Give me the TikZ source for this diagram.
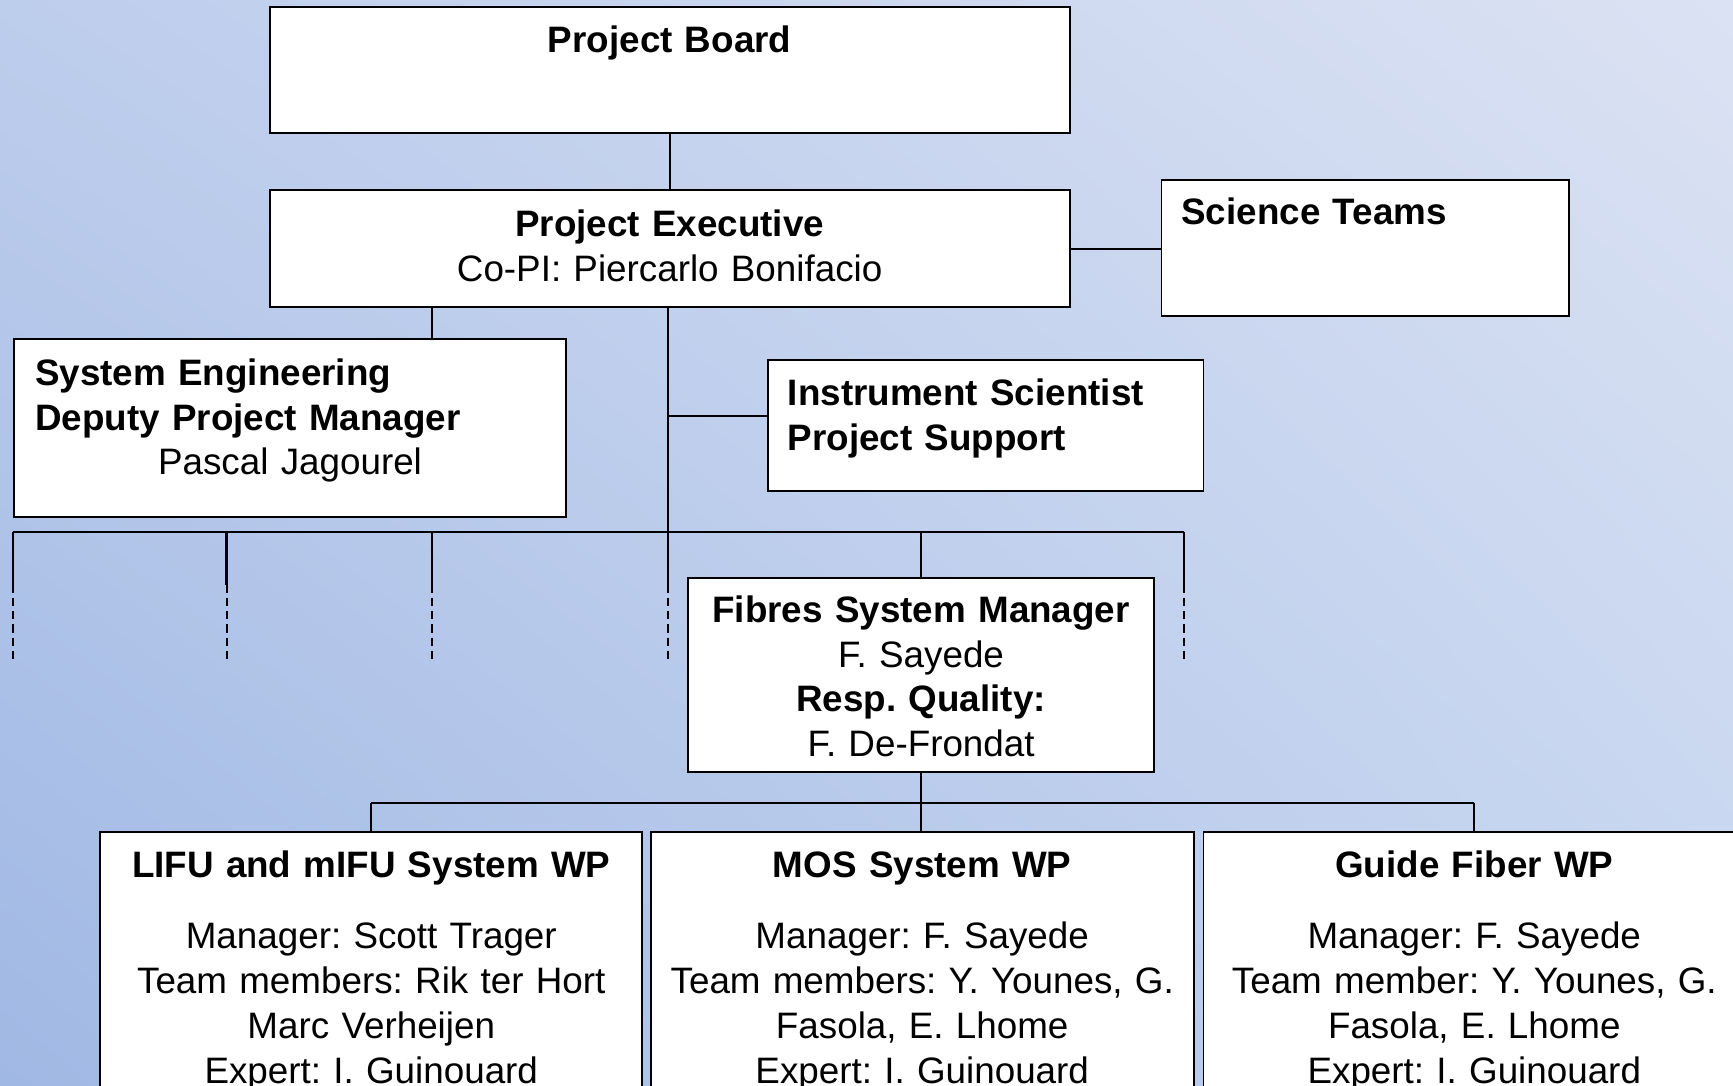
\documentclass[tikz,border=0pt]{standalone}
\usepackage{fontspec}
\setmainfont{Liberation Sans}
\usetikzlibrary{shadings}
\frenchspacing
\definecolor{bgTL}{RGB}{189,205,236}
\definecolor{bgTR}{RGB}{219,226,243}
\definecolor{bgBL}{RGB}{160,184,228}
\definecolor{bgBR}{RGB}{196,212,239}
\tikzset{
  orgbox/.style={draw=black,fill=white,line width=1.8pt,anchor=north west,
    inner xsep=0pt,inner ysep=0pt,align=center},
  link/.style={draw=black,line width=1.8pt},
  vacant/.style={draw=black,line width=1.8pt,dash pattern=on 7.5pt off 4.5pt}
}
\begin{document}
\begin{tikzpicture}[x=1pt,y=-1pt,font=\fontsize{33.3}{40.6}\selectfont]
\path[use as bounding box] (0,0) rectangle (1568,982);
\begin{scope}
\path[clip] (0,0) rectangle (1568,982);
\shade[upper left=bgTL,upper right=bgTR,lower left=bgBL,lower right=bgBR] (0,0) rectangle (1568,982);

% top of the chart
\node[orgbox,text width=724pt,text height=41.4pt,text depth=72pt] (board) at (243,5.6) {\textbf{Project Board}};
\node[orgbox,text width=724pt,text height=42pt,text depth=64pt] (exec) at (243,171)
  {\textbf{Project Executive}\\Co-PI: Piercarlo Bonifacio};
\node[orgbox,align=left,inner xsep=18pt,text width=333pt,text height=40.4pt,text depth=83pt] (science) at (1050,161.6)
  {\textbf{Science Teams}};
\node[orgbox,inner xsep=19pt,text width=461pt,text height=41.6pt,text depth=119pt] (syseng) at (12,306)
  {\makebox[\linewidth][l]{\textbf{System Engineering}}\\
   \makebox[\linewidth][l]{\textbf{Deputy Project Manager}}\\
   Pascal Jagourel};
\node[orgbox,align=left,inner xsep=18pt,text width=358pt,text height=41pt,text depth=77pt] (instr) at (694,325)
  {\textbf{Instrument Scientist}\\\textbf{Project Support}};

% fibres
\node[orgbox,text width=421pt,text height=40pt,text depth=135.7pt] (fibres) at (622,522)
  {\textbf{Fibres System Manager}\\F. Sayede\\\textbf{Resp. Quality:}\\F. De-Frondat};

% work packages
\node[orgbox,text width=490pt,text height=41.4pt,text depth=217pt] (lifu) at (90,751.6)
  {\textbf{LIFU and mIFU System WP}\\[24pt]Manager: Scott Trager\\Team members: Rik ter Hort\\Marc Verheijen\\Expert: I. Guinouard};
\node[orgbox,text width=491pt,text height=41.4pt,text depth=217pt] (mos) at (588,751.6)
  {\textbf{MOS System WP}\\[24pt]Manager: F. Sayede\\Team members: Y. Younes, G.\\Fasola, E. Lhome\\Expert: I. Guinouard};
\node[orgbox,text width=490pt,text height=41.4pt,text depth=217pt] (guide) at (1088,751.6)
  {\textbf{Guide Fiber WP}\\[24pt]Manager: F. Sayede\\Team member: Y. Younes, G.\\Fasola, E. Lhome\\Expert: I. Guinouard};

\coordinate (se) at (391,0);
\coordinate (trunk) at (604,481);
\coordinate (isjoin) at (604,376.5);
\coordinate (busL) at (12,481);
\coordinate (busR) at (1071,481);
\coordinate (wpbus) at (0,726.5);

\draw[link] (board.south) -- (exec.north);
\draw[link] (exec.east) -- (science.west |- exec.east);
\draw[link] (exec.south -| se) -- (syseng.north -| se);
\draw[link] (exec.south -| trunk) -- (trunk);
\draw[link] (isjoin) -- (isjoin -| instr.west);
\draw[link] (busL) -- (busR);
\draw[link] (fibres.north |- trunk) -- (fibres.north);

\foreach \x/\w in {12/1.8,205/2.8,391/1.8,604/1.8,1071/1.8}{
  \coordinate (drop\x) at (\x,599);
  \draw[link,line width=\w pt] (\x,481) -- (\x,529);
  \draw[vacant] (\x,529) -- (drop\x);
}

\draw[link] (fibres.south) -- (fibres.south |- mos.north);
\draw[link] (lifu.north |- wpbus) -- (guide.north |- wpbus);
\draw[link] (lifu.north |- wpbus) -- (lifu.north);
\draw[link] (guide.north |- wpbus) -- (guide.north);
\end{scope}
\end{tikzpicture}
\end{document}
